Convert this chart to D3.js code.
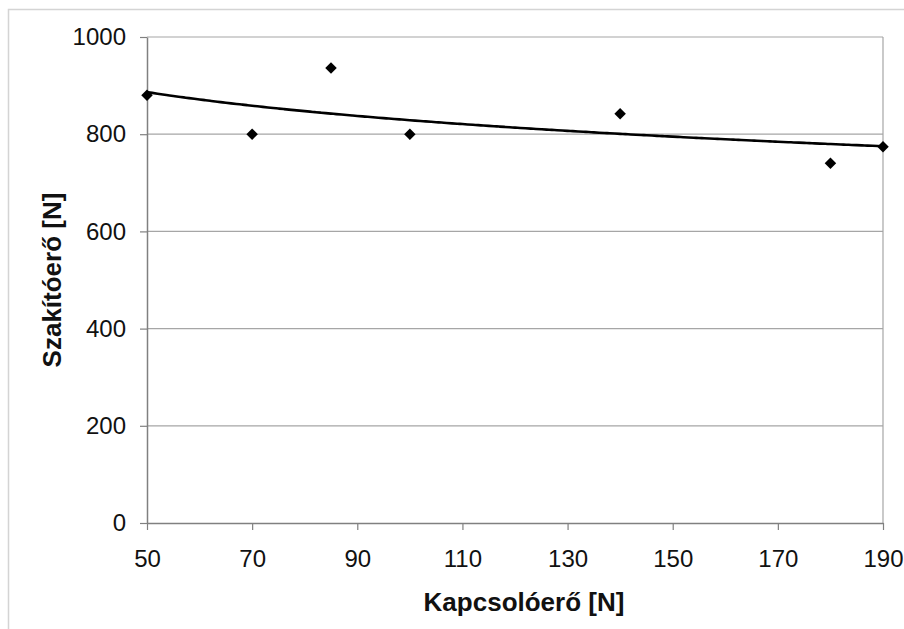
<!DOCTYPE html>
<html>
<head>
<meta charset="utf-8">
<script src="https://cdn.jsdelivr.net/npm/d3@7"></script>
<style>
  body { margin: 0; background: #fff; }
  text { font-family: "Liberation Sans", Arial, sans-serif; fill: #111; }
</style>
</head>
<body>
<div id="chart"></div>
<script>
// data
const kapcsoloero = [50, 70, 85, 100, 140, 180, 190];
const szakitoero = [880, 800, 936, 800, 842, 740, 774];
const xTicks = [50, 70, 90, 110, 130, 150, 170, 190];
const yTicks = [0, 200, 400, 600, 800, 1000];

const width = 904, height = 629;
const margin = { top: 37, right: 21, bottom: 106, left: 147 };

const svg = d3.select("#chart").append("svg")
    .attr("width", width)
    .attr("height", height);

// outer chart frame
svg.append("rect")
    .attr("x", 8.5).attr("y", 9.5)
    .attr("width", width + 10).attr("height", height + 10)
    .attr("fill", "none")
    .attr("stroke", "#d4d4d4")
    .attr("stroke-width", 1.5);

const x = d3.scaleLinear().domain([50, 190]).range([margin.left, width - margin.right]);
const y = d3.scaleLinear().domain([0, 1000]).range([height - margin.bottom, margin.top]);

// gridlines
svg.append("g")
    .selectAll("line")
    .data(yTicks.filter(d => d > 0))
    .enter().append("line")
    .attr("x1", x(50)).attr("x2", x(190))
    .attr("y1", d => y(d)).attr("y2", d => y(d))
    .attr("stroke", "#a6a6a6")
    .attr("stroke-width", 1.2);

// right border of plot area
svg.append("line")
    .attr("x1", x(190)).attr("x2", x(190))
    .attr("y1", y(1000)).attr("y2", y(0))
    .attr("stroke", "#a6a6a6")
    .attr("stroke-width", 1.2);

// axes
const xAxis = svg.append("g")
    .attr("transform", `translate(0,${y(0)})`)
    .call(d3.axisBottom(x).tickValues(xTicks).tickFormat(d3.format("d"))
        .tickSizeInner(7).tickSizeOuter(0).tickPadding(20));
const yAxis = svg.append("g")
    .attr("transform", `translate(${x(50)},0)`)
    .call(d3.axisLeft(y).tickValues(yTicks).tickFormat(d3.format("d"))
        .tickSizeInner(7).tickSizeOuter(0).tickPadding(14));

[xAxis, yAxis].forEach(a => {
    a.select(".domain").attr("stroke", "#808080").attr("stroke-width", 1.5);
    a.selectAll(".tick line").attr("stroke", "#808080").attr("stroke-width", 1.2);
    a.selectAll(".tick text")
        .style("font-family", "'Liberation Sans', Arial, sans-serif")
        .style("font-size", "24px")
        .attr("fill", "#111");
});

// logarithmic trendline fitted to the points
const lx = kapcsoloero.map(Math.log);
const mx = d3.mean(lx), my = d3.mean(szakitoero);
const b = d3.sum(lx, (v, i) => (v - mx) * (szakitoero[i] - my)) / d3.sum(lx, v => (v - mx) * (v - mx));
const a0 = my - b * mx;
const trendX = d3.range(50, 190.5, 1);

svg.append("path")
    .datum(trendX)
    .attr("fill", "none")
    .attr("stroke", "#000")
    .attr("stroke-width", 2.6)
    .attr("d", d3.line()
        .x(d => x(d))
        .y(d => y(a0 + b * Math.log(d)))
        .curve(d3.curveBasis));

// diamond markers
svg.append("g")
    .selectAll("path")
    .data(kapcsoloero)
    .enter().append("path")
    .attr("d", d3.symbol().type(d3.symbolSquare).size(66))
    .attr("transform", (d, i) => `translate(${x(d)},${y(szakitoero[i])}) rotate(45)`)
    .attr("fill", "#000");

// axis titles
svg.append("text")
    .attr("x", 524).attr("y", 611)
    .attr("text-anchor", "middle")
    .style("font-size", "26px")
    .style("font-weight", "bold")
    .text("Kapcsolóerő [N]");

svg.append("text")
    .attr("transform", `translate(61,${(y(0) + y(1000)) / 2}) rotate(-90)`)
    .attr("text-anchor", "middle")
    .style("font-size", "26px")
    .style("font-weight", "bold")
    .text("Szakítóerő [N]");
</script>
</body>
</html>
